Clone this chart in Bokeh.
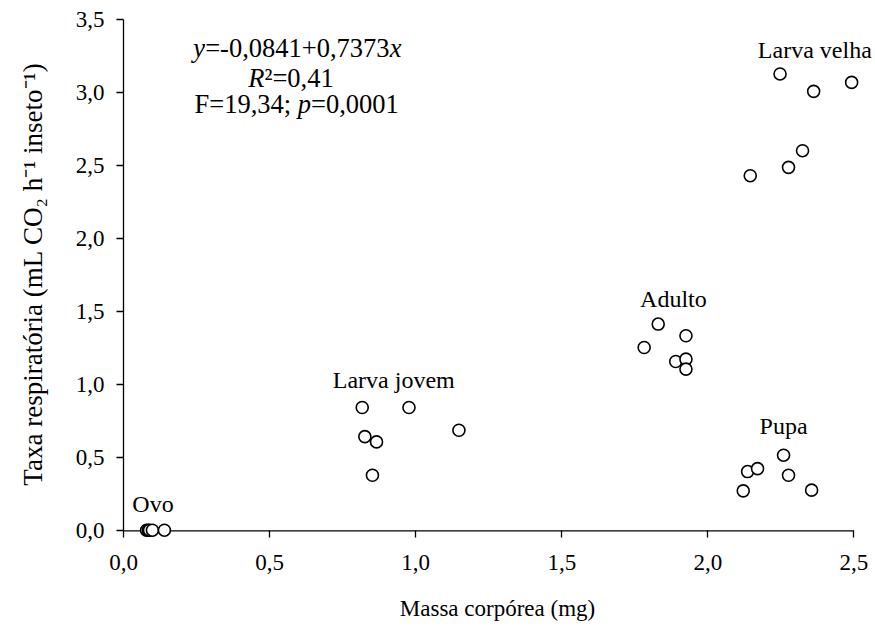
from bokeh.plotting import figure
from bokeh.models import Range1d, FixedTicker, CustomJSTickFormatter, Label
from bokeh.embed import file_html
from bokeh.resources import INLINE

# ---- data ----
ovo_x = [0.079, 0.085, 0.089, 0.099, 0.140]
ovo_y = [0.005, 0.005, 0.005, 0.005, 0.005]
jovem_x = [0.817, 0.977, 1.148, 0.826, 0.866, 0.852]
jovem_y = [0.844, 0.844, 0.689, 0.645, 0.609, 0.381]
adulto_x = [1.830, 1.925, 1.782, 1.890, 1.925, 1.925]
adulto_y = [1.415, 1.335, 1.255, 1.159, 1.175, 1.107]
pupa_x = [2.259, 2.136, 2.170, 2.276, 2.121, 2.355]
pupa_y = [0.518, 0.406, 0.426, 0.381, 0.274, 0.279]
velha_x = [2.247, 2.362, 2.492, 2.324, 2.276, 2.145]
velha_y = [3.126, 3.007, 3.068, 2.601, 2.487, 2.430]

x_ticks = [0.0, 0.5, 1.0, 1.5, 2.0, 2.5]
y_ticks = [0.0, 0.5, 1.0, 1.5, 2.0, 2.5, 3.0, 3.5]

x_title = "Massa corpórea (mg)"
y_title = "Taxa respiratória (mL CO₂ h⁻¹ inseto⁻¹)"

FONT = "Liberation Serif"

p = figure(width=874, height=623, output_backend="svg", toolbar_location=None,
           x_range=Range1d(0, 2.56), y_range=Range1d(-0.045, 3.56),
           min_border_left=123, min_border_right=3, min_border_top=10, min_border_bottom=86)
p.outline_line_color = None
p.xgrid.visible = False
p.ygrid.visible = False
p.background_fill_color = "white"
p.border_fill_color = "white"

fmt = CustomJSTickFormatter(code="return tick.toFixed(1).replace('.', ',');")

for ax, ticks, bnd in ((p.xaxis[0], x_ticks, (x_ticks[0], x_ticks[-1])),
                       (p.yaxis[0], y_ticks, (y_ticks[0], y_ticks[-1]))):
    ax.ticker = FixedTicker(ticks=ticks)
    ax.formatter = fmt
    ax.bounds = bnd
    ax.minor_tick_line_color = None
    ax.axis_line_width = 1.3
    ax.major_tick_line_width = 1.3
    ax.axis_line_color = "black"
    ax.major_tick_line_color = "black"
    ax.major_label_text_font = FONT
    ax.major_label_text_font_size = "23px"
    ax.major_label_text_color = "black"
    ax.axis_label_text_font = FONT
    ax.axis_label_text_font_size = "23px"
    ax.axis_label_text_font_style = "normal"
    ax.axis_label_text_color = "black"

# y axis: normal, at frame left (x = 0)
p.yaxis.major_tick_in = 0
p.yaxis.major_tick_out = 7
p.yaxis.major_label_standoff = 12
p.yaxis.axis_label_standoff = 25
p.yaxis.axis_label_text_font_size = "27px"
p.yaxis.axis_label = y_title

# x axis: frame bottom lies slightly below y = 0; ticks shifted up to y = 0
p.xaxis.axis_line_color = None
p.xaxis.major_tick_in = 7
p.xaxis.major_tick_out = 0
p.xaxis.major_label_standoff = 17
p.xaxis.axis_label_standoff = 23
p.xaxis.axis_label = x_title

# x axis line along y = 0
p.segment(x0=[x_ticks[0]], y0=[y_ticks[0]], x1=[x_ticks[-1]], y1=[y_ticks[0]],
          line_color="black", line_width=1.3)

for xs, ys in ((ovo_x, ovo_y), (jovem_x, jovem_y), (adulto_x, adulto_y),
               (pupa_x, pupa_y), (velha_x, velha_y)):
    p.scatter(xs, ys, marker="circle", size=12, fill_color="white",
              line_color="black", line_width=1.6)

def lab(x, y, text, size="24px", style="normal", align="center", xoff=0):
    p.add_layout(Label(x=x, y=y, text=text, text_font=FONT, text_font_size=size,
                       text_font_style=style, text_align=align,
                       text_baseline="alphabetic", text_color="black",
                       x_offset=xoff, y_offset=9))

# group labels
lab(0.101, 0.125, "Ovo")
lab(0.925, 0.972, "Larva jovem")
lab(1.882, 1.528, "Adulto")
lab(2.259, 0.657, "Pupa")
lab(2.366, 3.228, "Larva velha")

# regression text
S = "26.5px"
x0 = 0.239
lab(x0, 3.240, "y", S, "italic", "left", 0)
lab(x0, 3.240, "=-0,0841+0,7373", S, "normal", "left", 11.8)
lab(x0, 3.240, "x", S, "italic", "left", 196.3)
x1 = 0.427
lab(x1, 3.040, "R", S, "italic", "left", 0)
lab(x1, 3.040, "²=0,41", S, "normal", "left", 16.2)
x2 = 0.243
lab(x2, 2.856, "F=19,34; ", S, "normal", "left", 0)
lab(x2, 2.856, "p", S, "italic", "left", 103.3)
lab(x2, 2.856, "=0,0001", S, "normal", "left", 116.5)

open("out.html", "w").write(file_html(p, INLINE))
